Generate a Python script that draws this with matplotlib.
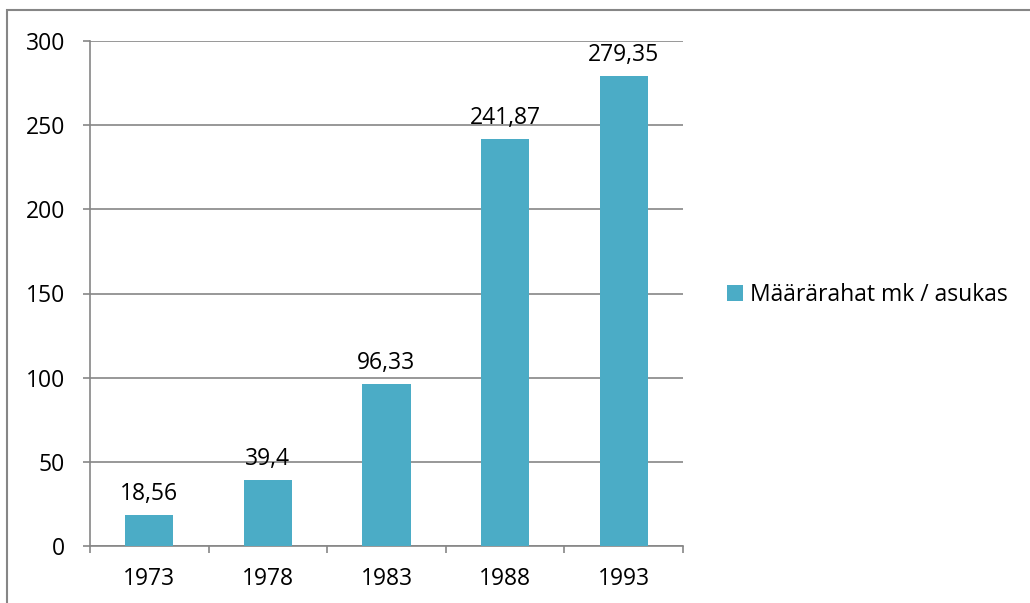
import matplotlib
matplotlib.use("Agg")
import matplotlib.pyplot as plt
from matplotlib.patches import Rectangle

years = ["1973", "1978", "1983", "1988", "1993"]
values = [18.56, 39.4, 96.33, 241.87, 279.35]
labels = ["18,56", "39,4", "96,33", "241,87", "279,35"]
series_name = "Määrärahat mk / asukas"
yticks = [0, 50, 100, 150, 200, 250, 300]

plt.rcParams['font.family'] = ['Open Sans', 'DejaVu Sans']
W, H = 1030, 603
FS = 16.5
fig = plt.figure(figsize=(W/100, H/100), dpi=100)
ax = fig.add_axes([90/W, 1-546/H, (683-90)/W, (546-41)/H])

color = "#4BACC6"
x = list(range(len(years)))
bars = ax.bar(x, values, width=0.405, color=color, label=series_name, zorder=3)
for xi, v, lab in zip(x, values, labels):
    ax.text(xi, v + 5, lab, ha="center", va="bottom", fontsize=FS, color="black")

ax.set_xlim(-0.5, len(years) - 0.5)
ax.set_ylim(0, 300)
ax.set_yticks(yticks)
ax.set_yticklabels([str(t) for t in yticks], fontsize=FS)
ax.set_xticks(x)
ax.set_xticklabels(years, fontsize=FS)
ax.tick_params(axis="x", length=0, pad=15)
ax.tick_params(axis="y", length=5, color="#868686", width=1.2, pad=13)
ax.set_xticks([i - 0.5 for i in range(len(years) + 1)], minor=True)
ax.tick_params(axis="x", which="minor", length=5, color="#868686", width=1.2, direction="out")
ax.grid(axis="y", color="#868686", linewidth=1.2, zorder=0)
for s in ["top", "right"]:
    ax.spines[s].set_visible(False)
for s in ["left", "bottom"]:
    ax.spines[s].set_color("#868686")
    ax.spines[s].set_linewidth(1.2)

leg = fig.legend(handles=[bars], labels=[series_name], loc="center left",
                 bbox_to_anchor=(706/W, 1-295/H), frameon=False, fontsize=FS,
                 handlelength=0.7, handleheight=0.7, handletextpad=0.3)

fig.patches.append(Rectangle((7/W, -0.1), 1.2, 1 - 10/H + 0.1, transform=fig.transFigure,
                             fill=False, edgecolor="#868686", linewidth=1.5))

fig.savefig("out.png", dpi=100, facecolor="white")
